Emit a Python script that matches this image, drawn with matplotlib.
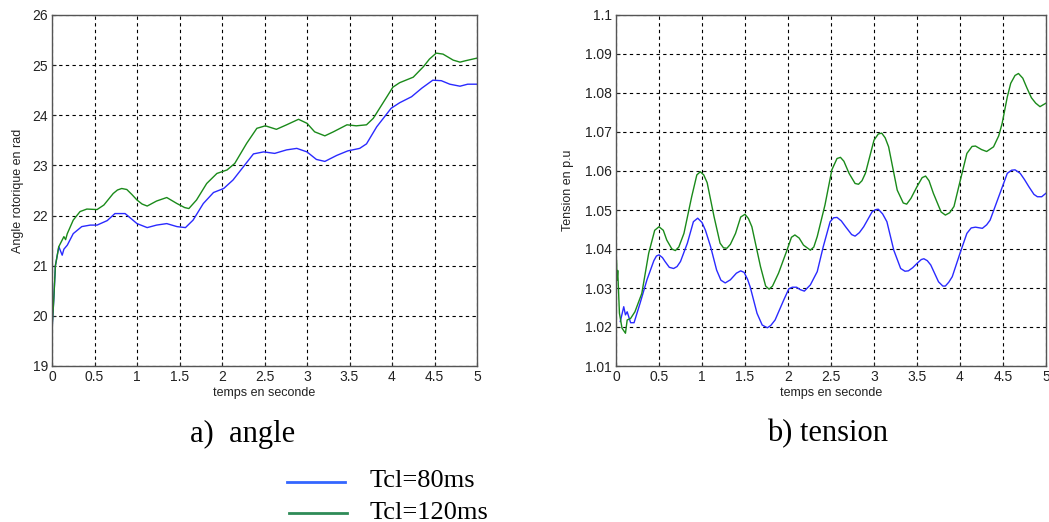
import matplotlib
matplotlib.use("Agg")
import matplotlib.pyplot as plt
from matplotlib.lines import Line2D

# Rotor angle (rad) versus time (s), as (time, value) samples
angle_120 = [(0.0, 19.72), (0.02, 20.3), (0.04, 21.0), (0.08, 21.38), (0.14, 21.58),
             (0.16, 21.52), (0.18, 21.64), (0.25, 21.91), (0.33, 22.08), (0.41, 22.13),
             (0.53, 22.12), (0.61, 22.21), (0.72, 22.44), (0.77, 22.51), (0.82, 22.54),
             (0.88, 22.52), (0.94, 22.42), (1.0, 22.31), (1.06, 22.23), (1.12, 22.19),
             (1.23, 22.29), (1.35, 22.36), (1.47, 22.24), (1.56, 22.16), (1.61, 22.14),
             (1.70, 22.31), (1.82, 22.64), (1.94, 22.84), (2.06, 22.91), (2.15, 23.04),
             (2.29, 23.44), (2.41, 23.74), (2.51, 23.79), (2.64, 23.72), (2.76, 23.81),
             (2.90, 23.92), (3.0, 23.84), (3.09, 23.67), (3.21, 23.59), (3.31, 23.67),
             (3.47, 23.81), (3.58, 23.79), (3.70, 23.81), (3.78, 23.94), (3.94, 24.37),
             (4.01, 24.56), (4.09, 24.65), (4.25, 24.76), (4.37, 24.97), (4.44, 25.12),
             (4.52, 25.24), (4.60, 25.22), (4.72, 25.10), (4.80, 25.06), (4.87, 25.09),
             (5.0, 25.14)]

angle_80 = [(0.0, 19.72), (0.02, 20.3), (0.04, 21.0), (0.08, 21.38), (0.12, 21.21),
            (0.14, 21.33), (0.18, 21.41), (0.25, 21.64), (0.35, 21.78), (0.45, 21.81),
            (0.53, 21.81), (0.65, 21.90), (0.74, 22.04), (0.86, 22.04), (1.0, 21.84),
            (1.12, 21.76), (1.23, 21.81), (1.35, 21.84), (1.47, 21.78), (1.57, 21.76),
            (1.66, 21.91), (1.78, 22.24), (1.90, 22.46), (2.02, 22.54), (2.13, 22.71),
            (2.25, 22.97), (2.37, 23.23), (2.49, 23.27), (2.62, 23.24), (2.76, 23.31),
            (2.88, 23.34), (3.0, 23.27), (3.11, 23.12), (3.21, 23.08), (3.35, 23.20),
            (3.48, 23.29), (3.62, 23.34), (3.70, 23.43), (3.82, 23.77), (3.99, 24.14),
            (4.09, 24.25), (4.23, 24.37), (4.35, 24.54), (4.48, 24.70), (4.58, 24.69),
            (4.68, 24.62), (4.80, 24.58), (4.89, 24.62), (5.0, 24.62)]

# Voltage (p.u) versus time (s), as (time, value) samples
volt_120 = [(0.0, 1.0250), (0.005, 1.0372), (0.012, 1.0320), (0.02, 1.0345), (0.04, 1.0235),
            (0.07, 1.0197), (0.11, 1.0184), (0.13, 1.0218), (0.17, 1.0222), (0.22, 1.0239),
            (0.30, 1.0286), (0.38, 1.0389), (0.45, 1.0448), (0.50, 1.0457), (0.55, 1.0448),
            (0.59, 1.0423), (0.65, 1.0400), (0.69, 1.0396), (0.73, 1.0405), (0.79, 1.0440),
            (0.88, 1.0534), (0.94, 1.0590), (0.98, 1.0598), (1.02, 1.0590), (1.06, 1.0570),
            (1.14, 1.0483), (1.21, 1.0415), (1.25, 1.0403), (1.29, 1.0402), (1.33, 1.0412),
            (1.39, 1.0440), (1.45, 1.0482), (1.50, 1.0489), (1.54, 1.0478), (1.58, 1.0457),
            (1.68, 1.0355), (1.74, 1.0305), (1.78, 1.0297), (1.82, 1.0305), (1.89, 1.0338),
            (1.99, 1.0398), (2.04, 1.0430), (2.08, 1.0436), (2.13, 1.0428), (2.18, 1.0410),
            (2.26, 1.0397), (2.30, 1.0405), (2.34, 1.0432), (2.43, 1.0513), (2.51, 1.0603),
            (2.57, 1.0632), (2.61, 1.0635), (2.65, 1.0625), (2.71, 1.0594), (2.78, 1.0568),
            (2.82, 1.0566), (2.86, 1.0575), (2.90, 1.0594), (3.0, 1.0679), (3.05, 1.0695),
            (3.09, 1.0697), (3.13, 1.0685), (3.17, 1.0662), (3.27, 1.0551), (3.34, 1.0518),
            (3.38, 1.0515), (3.43, 1.0530), (3.50, 1.0560), (3.56, 1.0583), (3.60, 1.0587),
            (3.64, 1.0575), (3.69, 1.0543), (3.78, 1.0495), (3.83, 1.0487), (3.88, 1.0493),
            (3.93, 1.0509), (4.00, 1.0573), (4.08, 1.0645), (4.14, 1.0663), (4.18, 1.0664),
            (4.25, 1.0655), (4.31, 1.0650), (4.39, 1.0662), (4.45, 1.0690), (4.49, 1.0722),
            (4.55, 1.0790), (4.59, 1.0825), (4.64, 1.0845), (4.68, 1.0850), (4.73, 1.0838),
            (4.78, 1.0812), (4.83, 1.0788), (4.88, 1.0774), (4.93, 1.0765), (5.0, 1.0774)]

volt_80 = [(0.05, 1.0214), (0.09, 1.0252), (0.11, 1.0231), (0.13, 1.0239), (0.17, 1.0211),
           (0.21, 1.0211), (0.28, 1.0261), (0.36, 1.0321), (0.44, 1.0370), (0.47, 1.0382),
           (0.50, 1.0385), (0.54, 1.0378), (0.57, 1.0368), (0.62, 1.0353), (0.67, 1.0350),
           (0.71, 1.0355), (0.75, 1.0368), (0.83, 1.0415), (0.90, 1.0470), (0.95, 1.0479),
           (1.0, 1.0468), (1.04, 1.0448), (1.10, 1.0406), (1.17, 1.0346), (1.22, 1.0320),
           (1.27, 1.0313), (1.33, 1.0321), (1.40, 1.0338), (1.45, 1.0344), (1.49, 1.0340),
           (1.53, 1.0322), (1.56, 1.0303), (1.64, 1.0235), (1.70, 1.0205), (1.76, 1.0198),
           (1.80, 1.0204), (1.85, 1.0218), (1.95, 1.0269), (2.01, 1.0298), (2.05, 1.0302),
           (2.10, 1.0302), (2.14, 1.0296), (2.19, 1.0292), (2.26, 1.0308), (2.34, 1.0342),
           (2.41, 1.0406), (2.49, 1.0470), (2.53, 1.0480), (2.57, 1.0481), (2.62, 1.0472),
           (2.67, 1.0457), (2.74, 1.0437), (2.78, 1.0433), (2.83, 1.0442), (2.88, 1.0457),
           (2.98, 1.0496), (3.02, 1.0501), (3.05, 1.0502), (3.10, 1.0490), (3.15, 1.0470),
           (3.23, 1.0397), (3.31, 1.0350), (3.36, 1.0343), (3.40, 1.0344), (3.45, 1.0352),
           (3.50, 1.0363), (3.55, 1.0373), (3.58, 1.0375), (3.62, 1.0370), (3.66, 1.0359),
           (3.75, 1.0316), (3.80, 1.0305), (3.83, 1.0305), (3.87, 1.0315), (3.91, 1.0329),
           (4.00, 1.0389), (4.08, 1.0440), (4.13, 1.0454), (4.18, 1.0456), (4.26, 1.0453),
           (4.31, 1.0462), (4.35, 1.0474), (4.45, 1.0534), (4.55, 1.0594), (4.60, 1.0602),
           (4.64, 1.0603), (4.70, 1.0594), (4.75, 1.0578), (4.80, 1.0560), (4.86, 1.0540),
           (4.90, 1.0534), (4.95, 1.0534), (5.0, 1.0543)]

x_ticks = [0, 0.5, 1, 1.5, 2, 2.5, 3, 3.5, 4, 4.5, 5]
x_tick_labels = ["0", "0.5", "1", "1.5", "2", "2.5", "3", "3.5", "4", "4.5", "5"]
angle_ticks = [19, 20, 21, 22, 23, 24, 25, 26]
volt_ticks = [1.01, 1.02, 1.03, 1.04, 1.05, 1.06, 1.07, 1.08, 1.09, 1.1]
volt_tick_labels = ["1.01", "1.02", "1.03", "1.04", "1.05", "1.06", "1.07", "1.08", "1.09", "1.1"]

series_labels = ["Tcl=80ms", "Tcl=120ms"]
captions = ["a)  angle", "b) tension"]

BLUE = "#2a2aff"
GREEN = "#1a8a1a"

plt.rcParams["font.family"] = ["Liberation Sans", "DejaVu Sans"]

W, H = 1049, 522
fig = plt.figure(figsize=(W / 100, H / 100), dpi=100)
fig.patch.set_facecolor("white")


def axes_px(x0, x1, y0, y1):
    return fig.add_axes([x0 / W, 1 - y1 / H, (x1 - x0) / W, (y1 - y0) / H])


def style(ax):
    ax.grid(True, color="black", linestyle=(0, (3, 3)), linewidth=0.8)
    for s in ax.spines.values():
        s.set_color("#555555")
        s.set_linewidth(1.0)
    ax.tick_params(direction="in", length=3, labelsize=10, colors="#222222",
                   top=False, right=False, pad=3)
    ax.set_xlim(0, 5)
    ax.set_xticks(x_ticks)
    ax.set_xticklabels(x_tick_labels)


def draw(ax, samples, color):
    ts = [p[0] for p in samples]
    vs = [p[1] for p in samples]
    ax.plot(ts, vs, color=color, lw=1.0, solid_joinstyle="round")


ax1 = axes_px(52, 477, 15, 366)
draw(ax1, angle_80, BLUE)
draw(ax1, angle_120, GREEN)
style(ax1)
ax1.set_ylim(19, 26)
ax1.set_yticks(angle_ticks)
ax1.set_xlabel("temps en seconde", fontsize=9, labelpad=2, color="#222222")
ax1.set_ylabel("Angle rotorique en rad", fontsize=9, labelpad=6, color="#222222")

ax2 = axes_px(616, 1046, 15, 366)
draw(ax2, volt_80, BLUE)
draw(ax2, volt_120, GREEN)
style(ax2)
ax2.set_ylim(1.01, 1.1)
ax2.set_yticks(volt_ticks)
ax2.set_yticklabels(volt_tick_labels)
ax2.set_xlabel("temps en seconde", fontsize=9, labelpad=2, color="#222222")
ax2.set_ylabel("Tension en p.u", fontsize=9, labelpad=8, color="#222222")

serif = ["Liberation Serif", "DejaVu Serif"]
fig.text(243 / W, 1 - 434 / H, captions[0], fontsize=22, family=serif,
         ha="center", va="center")
fig.text(828 / W, 1 - 434 / H, captions[1], fontsize=22, family=serif,
         ha="center", va="center")

# Legend below the panels
fig.add_artist(Line2D([287 / W, 345 / W], [1 - 482 / H, 1 - 482 / H],
                      color="#3366ff", lw=2.0, transform=fig.transFigure))
fig.add_artist(Line2D([289 / W, 347 / W], [1 - 513 / H, 1 - 513 / H],
                      color="#2e8b57", lw=2.0, transform=fig.transFigure))
fig.text(370 / W, 1 - 487 / H, series_labels[0], fontsize=19, family=serif,
         ha="left", va="baseline")
fig.text(370 / W, 1 - 519 / H, series_labels[1], fontsize=19, family=serif,
         ha="left", va="baseline")

fig.savefig("out.png", dpi=100, facecolor="white")
